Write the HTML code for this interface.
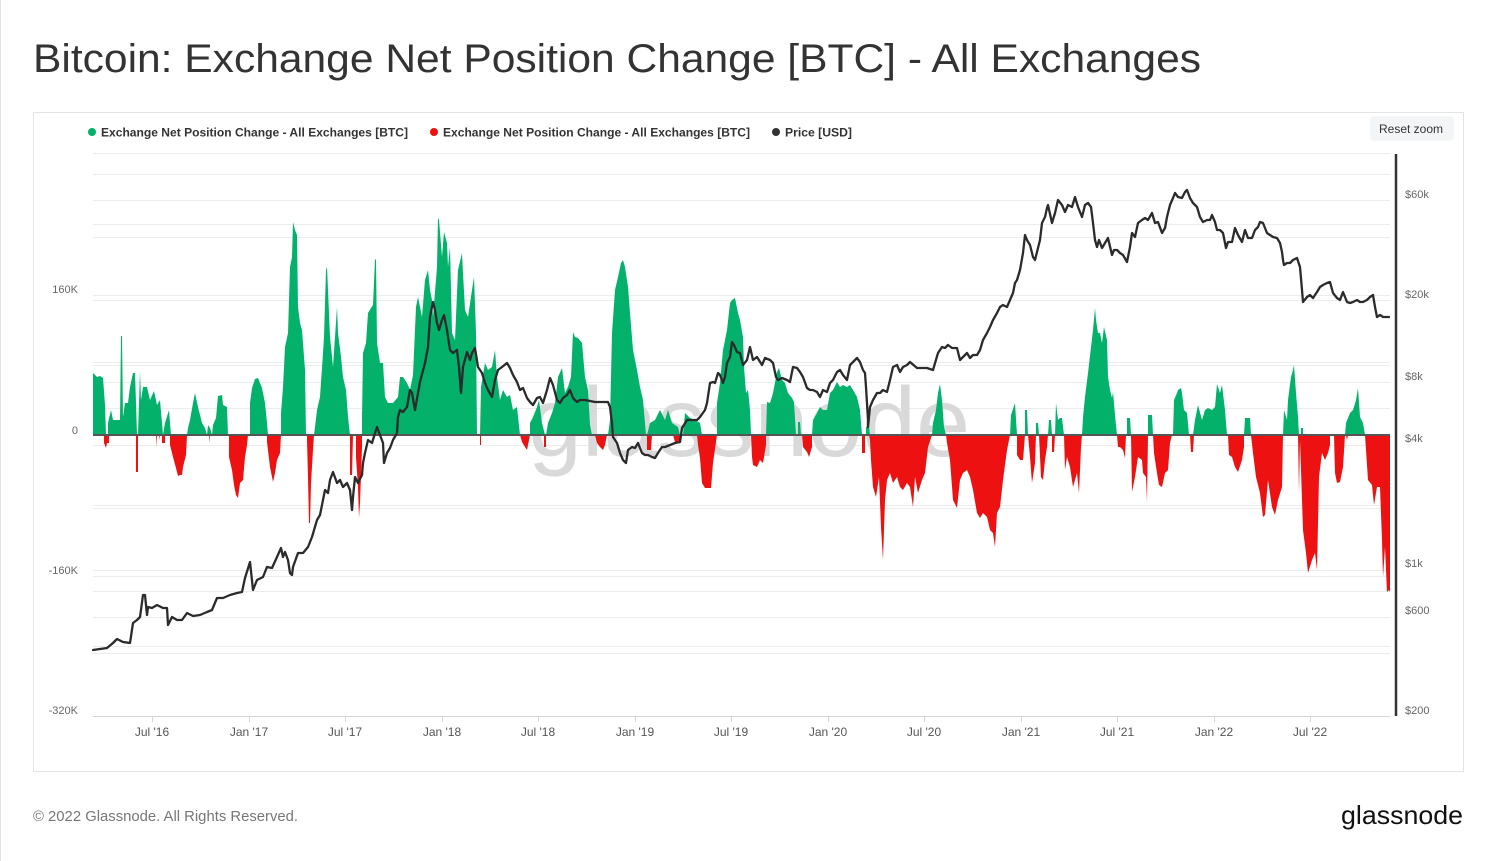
<!DOCTYPE html>
<html><head><meta charset="utf-8"><style>
html,body{margin:0;padding:0;background:#fff;}
svg{display:block;}
text{font-family:"Liberation Sans",sans-serif;}
</style></head><body>
<svg width="1495" height="861" viewBox="0 0 1495 861" xmlns="http://www.w3.org/2000/svg">
<rect width="1495" height="861" fill="#fff"/>
<line x1="0.5" y1="0" x2="0.5" y2="861" stroke="#e2e2e2"/>
<text x="33" y="72" font-size="40" fill="#333" textLength="1168" lengthAdjust="spacingAndGlyphs">Bitcoin: Exchange Net Position Change [BTC] - All Exchanges</text>
<rect x="33.5" y="112.5" width="1430" height="659" fill="#fff" stroke="#e4e4e4"/>
<!-- legend -->
<circle cx="92" cy="132" r="4" fill="#03b16b"/>
<text x="101" y="136.5" font-size="12" font-weight="bold" fill="#333" textLength="307" lengthAdjust="spacingAndGlyphs">Exchange Net Position Change - All Exchanges [BTC]</text>
<circle cx="434" cy="132" r="4" fill="#ee1111"/>
<text x="443" y="136.5" font-size="12" font-weight="bold" fill="#333" textLength="307" lengthAdjust="spacingAndGlyphs">Exchange Net Position Change - All Exchanges [BTC]</text>
<circle cx="776" cy="132" r="4" fill="#333"/>
<text x="785" y="136.5" font-size="12" font-weight="bold" fill="#333" textLength="67" lengthAdjust="spacingAndGlyphs">Price [USD]</text>
<rect x="1370" y="116" width="84" height="25" rx="4" fill="#f4f5f7"/>
<text x="1411" y="133" font-size="12" fill="#333" text-anchor="middle">Reset zoom</text>
<!-- gridlines -->
<g stroke="#ececec" stroke-width="1">
<line x1="93" x2="1390" y1="153.5" y2="153.5"/><line x1="93" x2="1390" y1="174.5" y2="174.5"/>
<line x1="93" x2="1390" y1="200.5" y2="200.5"/><line x1="93" x2="1390" y1="224.5" y2="224.5"/>
<line x1="93" x2="1390" y1="237.5" y2="237.5"/><line x1="93" x2="1390" y1="295.5" y2="295.5"/>
<line x1="93" x2="1390" y1="300.5" y2="300.5"/><line x1="93" x2="1390" y1="362.5" y2="362.5"/>
<line x1="93" x2="1390" y1="365.5" y2="365.5"/><line x1="93" x2="1390" y1="382.5" y2="382.5"/>
<line x1="93" x2="1390" y1="408.5" y2="408.5"/><line x1="93" x2="1390" y1="445.5" y2="445.5"/>
<line x1="93" x2="1390" y1="505.5" y2="505.5"/><line x1="93" x2="1390" y1="508.5" y2="508.5"/>
<line x1="93" x2="1390" y1="570.5" y2="570.5"/><line x1="93" x2="1390" y1="576.5" y2="576.5"/>
<line x1="93" x2="1390" y1="591.5" y2="591.5"/><line x1="93" x2="1390" y1="617.5" y2="617.5"/>
<line x1="93" x2="1390" y1="646.5" y2="646.5"/><line x1="93" x2="1390" y1="653.5" y2="653.5"/>
</g>
<!-- watermark -->
<text x="528" y="456" font-size="98" fill="#d9d9d9" textLength="442" lengthAdjust="spacingAndGlyphs">glassnode</text>
<!-- green bars -->
<polygon fill="#03b16b" points="93,435 93,373 97,377 100,376 103,378 105,405 106,435 108,435 108,423 111,410 113,420 117,420 120,420 121,336 122,336 123,417 125,403 128,403 130,387 133,373 135,373 136,403 137,435 138,435 140,371 141,400 143,387 147,387 150,400 154,391 157,405 160,400 162,423 163,435 165,423 169,410 170,423 171,435 187,435 188,428 190,420 193,403 195,393 198,407 202,423 205,428 207,435 208,425 210,428 212,435 213,425 216,418 218,396 222,395 223,405 227,407 228,435 250,435 250,403 252,388 255,379 258,378 262,388 265,403 267,423 268,435 281,435 281,413 283,387 285,347 288,333 290,267 292,257 293,222 295,230 297,235 298,307 300,323 302,330 305,370 306,435 314,435 317,410 320,397 323,353 324,337 326,270 327,267 328,290 330,337 333,367 335,337 337,307 338,333 341,357 343,377 346,390 348,417 350,435 362,435 362,417 363,353 366,343 368,313 371,308 373,305 375,260 376,259 377,343 380,363 383,363 385,397 388,403 393,403 398,397 400,377 403,377 407,383 410,390 413,375 416,307 418,297 422,317 425,280 428,270 430,290 432,300 433,317 437,267 438,218 439,220 442,257 444,232 447,243 448,267 450,247 452,333 455,340 458,270 462,253 463,273 465,310 468,317 472,290 474,277 476,333 477,435 480,435 481,387 485,363 488,370 492,367 495,350 497,377 500,400 503,390 507,397 510,395 513,410 517,407 520,435 530,435 530,423 533,417 537,407 539,400 542,423 545,435 546,435 548,423 552,413 555,403 558,377 562,368 565,393 568,387 571,377 573,332 575,337 578,338 582,343 585,377 588,390 590,425 592,435 608,435 610,420 612,333 615,290 618,277 621,263 623,260 625,267 628,287 630,313 633,350 637,370 640,387 643,400 646,435 647,435 650,423 655,420 660,410 665,420 668,410 672,423 678,427 680,435 683,435 685,413 690,418 695,420 700,423 702,435 717,435 717,403 720,383 723,350 727,330 730,303 732,300 735,298 738,313 740,320 743,337 744,367 746,393 748,390 750,410 751,435 766,435 767,402 770,403 773,393 777,372 779,368 782,380 785,383 788,393 792,398 794,402 796,435 798,435 798,422 800,422 801,435 812,435 813,420 817,413 820,407 823,410 827,410 830,393 833,390 837,382 840,387 843,385 847,387 850,385 853,390 857,397 860,410 862,435 866,435 866,427 869,427 870,435 932,435 933,423 936,410 938,393 940,384 942,400 944,427 946,435 1010,435 1011,415 1015,403 1017,435 1025,435 1025,410 1027,410 1028,435 1036,435 1036,423 1038,423 1039,435 1048,435 1049,420 1051,420 1052,435 1055,435 1056,403 1058,420 1060,418 1062,418 1064,435 1082,435 1083,417 1085,397 1088,373 1093,330 1095,308 1096,320 1098,333 1100,333 1102,343 1104,327 1107,340 1108,377 1110,390 1112,398 1113,392 1115,415 1117,435 1127,435 1127,418 1130,418 1131,435 1148,435 1148,415 1152,415 1153,435 1173,435 1174,400 1177,393 1178,390 1181,388 1182,393 1184,410 1187,413 1189,435 1193,435 1195,420 1198,405 1202,420 1205,410 1208,408 1212,410 1215,407 1217,384 1220,393 1222,385 1225,410 1227,435 1244,435 1245,418 1250,418 1251,435 1283,435 1284,410 1287,420 1288,400 1291,377 1293,370 1294,365 1296,393 1298,417 1299,435 1301,435 1301,428 1303,428 1303,435 1345,435 1346,423 1350,413 1353,410 1356,400 1358,388 1360,417 1363,423 1365,435"/>
<!-- red bars -->
<polygon fill="#ee1111" points="104,435 104,443 106,448 107,443 109,443 109,435 136,435 136,472 138,472 138,435 156,435 156,447 157,435 159,435 159,440 160,435 162,435 162,443 165,443 165,435 170,435 170,445 173,457 176,468 178,476 180,475 182,475 183,467 186,455 187,435 209,435 209,443 210,435 229,435 229,457 232,470 234,485 236,495 238,498 240,483 243,480 245,457 247,445 248,435 267,435 267,442 270,467 273,482 275,473 277,460 280,453 281,435 307,435 307,440 308,477 309,523 310,523 311,483 313,450 314,435 350,435 350,475 352,475 353,435 356,435 356,457 358,487 359,518 360,503 362,447 362,435 480,435 480,445 481,445 481,435 520,435 522,442 525,447 527,450 529,440 530,435 544,435 544,447 546,447 546,435 595,435 597,443 600,447 603,450 605,445 607,435 647,435 647,450 651,450 652,435 673,435 675,442 681,442 682,435 697,435 698,445 700,458 702,483 705,488 708,488 711,488 713,463 717,435 751,435 752,457 753,465 757,467 760,460 763,463 766,445 766,435 802,435 803,447 807,452 809,457 812,447 812,435 862,435 862,453 865,453 865,435 869,435 870,440 871,460 873,487 876,497 879,477 881,527 883,560 885,500 887,480 890,473 893,483 897,477 900,487 903,490 907,483 910,487 913,507 915,477 918,493 922,480 925,473 928,447 932,435 946,435 947,443 950,460 953,500 957,508 960,480 963,473 967,470 970,477 973,490 977,513 980,518 983,513 987,517 990,530 993,533 995,547 997,513 1000,507 1003,480 1007,450 1010,435 1017,435 1017,455 1020,460 1023,460 1025,435 1028,435 1030,457 1032,483 1035,463 1036,435 1039,435 1041,477 1043,480 1045,460 1047,447 1048,435 1052,435 1052,452 1054,452 1055,435 1064,435 1065,470 1067,457 1070,467 1073,487 1075,480 1077,473 1079,493 1081,447 1082,435 1117,435 1118,447 1120,447 1123,450 1125,458 1126,435 1131,435 1132,492 1135,477 1138,457 1142,460 1143,473 1146,477 1147,502 1148,435 1153,435 1154,453 1157,473 1159,485 1162,487 1165,473 1168,470 1170,443 1172,435 1190,435 1191,452 1193,452 1194,435 1228,435 1229,455 1232,457 1235,467 1238,472 1242,460 1244,447 1244,435 1251,435 1253,453 1256,477 1260,493 1263,517 1265,515 1268,480 1272,507 1275,515 1278,500 1282,487 1283,435 1298,435 1299,493 1300,440 1303,530 1306,553 1308,573 1312,560 1315,553 1317,570 1319,477 1322,453 1325,460 1328,453 1330,445 1330,435 1334,435 1335,473 1337,483 1340,482 1343,467 1345,435 1346,435 1347,440 1348,435 1365,435 1366,450 1368,480 1372,485 1374,505 1377,487 1380,487 1382,540 1383,577 1385,547 1387,592 1389,590 1390,592 1390,435"/>
<!-- zero line -->
<line x1="93" x2="1390" y1="435" y2="435" stroke="#555" stroke-width="2"/>
<!-- price -->
<polyline fill="none" stroke="#2b2b2b" stroke-width="2.3" stroke-linejoin="round" stroke-linecap="round" points="93,650 100,649 107,648 113,643 117,639 123,642 130,643 133,623 137,620 140,617 143,595 145,595 147,615 148,607 152,608 157,605 163,608 167,608 168,625 172,617 177,620 182,620 187,613 193,616 200,615 207,612 212,610 217,598 223,598 230,595 237,593 242,592 245,578 250,562 253,590 257,580 263,577 267,567 272,568 277,557 281,548 283,557 285,552 288,560 290,573 292,575 293,567 298,553 303,553 308,547 312,537 317,520 320,515 323,500 325,490 328,493 330,480 333,472 337,483 340,480 343,487 347,483 350,490 352,510 353,497 355,477 358,483 362,475 363,463 365,453 368,440 372,443 375,433 377,427 380,435 383,443 384,463 387,453 390,448 393,440 397,433 398,417 400,410 403,412 407,407 410,390 412,393 415,410 420,382 425,363 428,347 430,317 433,302 435,310 437,323 439,330 442,320 444,315 447,330 448,337 450,350 453,353 457,350 459,367 461,393 463,367 467,352 470,360 472,353 475,348 478,367 482,373 485,383 488,390 492,397 495,380 498,370 502,367 507,363 510,368 513,375 517,382 520,390 523,388 527,398 530,402 533,405 537,398 540,397 543,403 547,390 550,378 553,385 557,400 560,403 563,398 567,395 570,390 573,398 577,402 580,400 585,400 590,401 595,402 600,402 608,402 610,407 612,423 613,437 617,443 620,453 623,460 626,463 628,450 632,447 635,448 638,443 642,453 645,455 648,455 652,457 655,458 658,453 662,447 665,447 670,445 675,443 680,442 682,428 687,420 692,420 697,420 700,417 705,410 707,403 710,383 713,382 715,383 718,373 720,375 723,383 725,377 727,363 730,357 732,342 734,345 737,352 740,353 743,365 747,360 750,347 753,360 757,357 762,365 765,358 770,360 773,363 776,377 778,380 782,378 787,380 790,382 793,367 797,368 800,372 803,377 807,388 810,390 813,390 817,392 820,397 823,390 827,392 830,383 833,380 837,372 840,370 843,375 847,380 850,365 853,362 857,358 860,362 863,370 865,373 866,387 868,420 868,427 870,407 873,400 877,393 880,393 883,390 887,392 890,380 893,367 897,365 900,372 903,367 907,365 910,362 917,368 927,368 933,370 938,353 942,347 945,348 948,345 952,348 957,348 960,360 963,357 967,353 970,358 973,355 977,355 980,350 983,340 987,333 990,327 993,320 997,313 1000,307 1003,305 1007,307 1010,300 1013,293 1015,283 1017,280 1020,270 1023,253 1025,235 1027,240 1030,245 1033,257 1035,260 1037,252 1040,240 1042,223 1045,217 1047,208 1048,205 1052,223 1055,213 1058,200 1062,205 1065,212 1068,205 1072,207 1075,197 1078,207 1082,217 1085,205 1088,203 1091,207 1093,223 1095,240 1097,247 1099,240 1102,248 1105,243 1108,238 1112,255 1114,250 1117,250 1120,253 1123,255 1127,262 1130,247 1132,233 1135,237 1138,223 1142,220 1145,218 1148,220 1152,213 1155,223 1158,222 1162,233 1165,228 1167,217 1170,205 1173,198 1175,193 1178,197 1182,198 1185,192 1187,190 1190,198 1193,203 1197,207 1200,217 1203,222 1207,220 1210,220 1212,215 1215,222 1217,230 1220,230 1223,233 1226,248 1228,242 1232,242 1235,228 1238,235 1242,242 1245,230 1248,238 1252,238 1255,230 1258,227 1260,222 1263,223 1267,233 1270,235 1273,237 1277,238 1280,243 1282,252 1283,260 1284,265 1287,263 1290,263 1293,260 1297,258 1300,267 1302,290 1303,302 1307,297 1310,295 1313,298 1317,292 1320,287 1323,285 1327,283 1330,282 1333,293 1337,298 1340,300 1343,292 1347,302 1350,303 1353,302 1357,300 1360,302 1363,302 1367,300 1370,297 1373,295 1375,307 1377,317 1380,315 1383,317 1387,317 1389,317"/>
<!-- axes -->
<line x1="93" x2="1390" y1="716.5" y2="716.5" stroke="#d6d6d6"/>
<line x1="1396" x2="1396" y1="154" y2="716" stroke="#333" stroke-width="2.5"/>
<g stroke="#d6d6d6">
<line x1="152.5" x2="152.5" y1="716" y2="722"/><line x1="249.5" x2="249.5" y1="716" y2="722"/>
<line x1="345.5" x2="345.5" y1="716" y2="722"/><line x1="442.5" x2="442.5" y1="716" y2="722"/>
<line x1="538.5" x2="538.5" y1="716" y2="722"/><line x1="635.5" x2="635.5" y1="716" y2="722"/>
<line x1="731.5" x2="731.5" y1="716" y2="722"/><line x1="828.5" x2="828.5" y1="716" y2="722"/>
<line x1="924.5" x2="924.5" y1="716" y2="722"/><line x1="1021.5" x2="1021.5" y1="716" y2="722"/>
<line x1="1117.5" x2="1117.5" y1="716" y2="722"/><line x1="1214.5" x2="1214.5" y1="716" y2="722"/>
<line x1="1310.5" x2="1310.5" y1="716" y2="722"/>
</g>
<g font-size="11" fill="#666" text-anchor="end">
<text x="78" y="293">160K</text><text x="78" y="434">0</text>
<text x="78" y="574">-160K</text><text x="78" y="714">-320K</text>
</g>
<g font-size="11" fill="#666">
<text x="1405" y="198">$60k</text><text x="1405" y="298">$20k</text>
<text x="1405" y="380">$8k</text><text x="1405" y="442">$4k</text>
<text x="1405" y="567">$1k</text><text x="1405" y="614">$600</text>
<text x="1405" y="714">$200</text>
</g>
<g font-size="12" fill="#555" text-anchor="middle">
<text x="152" y="736">Jul '16</text><text x="249" y="736">Jan '17</text>
<text x="345" y="736">Jul '17</text><text x="442" y="736">Jan '18</text>
<text x="538" y="736">Jul '18</text><text x="635" y="736">Jan '19</text>
<text x="731" y="736">Jul '19</text><text x="828" y="736">Jan '20</text>
<text x="924" y="736">Jul '20</text><text x="1021" y="736">Jan '21</text>
<text x="1117" y="736">Jul '21</text><text x="1214" y="736">Jan '22</text>
<text x="1310" y="736">Jul '22</text>
</g>
<!-- footer -->
<text x="33" y="821" font-size="15" fill="#777" textLength="265" lengthAdjust="spacingAndGlyphs">© 2022 Glassnode. All Rights Reserved.</text>
<text x="1341" y="824" font-size="26" fill="#111" textLength="122" lengthAdjust="spacingAndGlyphs">glassnode</text>
</svg>
</body></html>
